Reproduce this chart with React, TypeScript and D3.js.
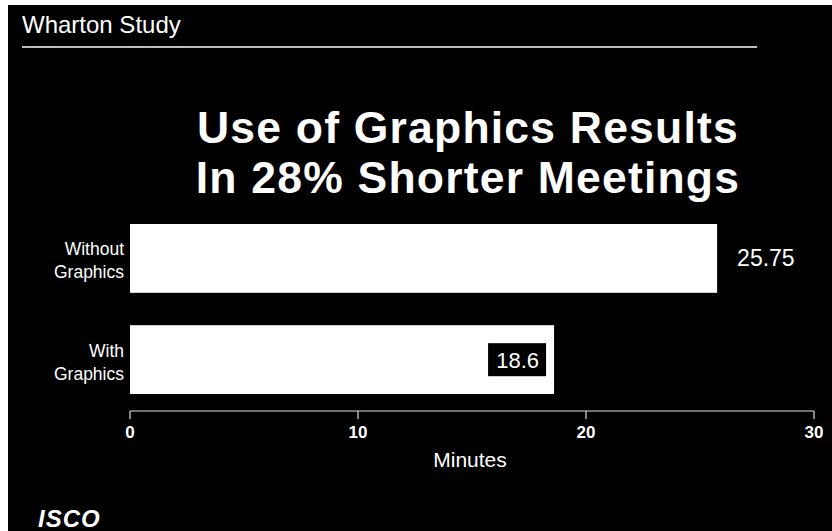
import React from "react";
import * as d3 from "d3";

const categories = [["Without", "Graphics"], ["With", "Graphics"]];
const values = [25.75, 18.6];
const valueLabels = ["25.75", "18.6"];
const xTicks = [0, 10, 20, 30];
const header = "Wharton Study";
const titleLines = ["Use of Graphics Results", "In 28% Shorter Meetings"];
const xTitle = "Minutes";

const W = 832;
const H = 531;
const FONT = "'Liberation Sans', Arial, Helvetica, sans-serif";

export default function App() {
  const x = d3.scaleLinear().domain([0, 30]).range([130, 814]);
  const y = d3.scaleBand<number>().domain([0, 1]).range([224, 394]).paddingInner(0.32).paddingOuter(0);
  const axisY = 411;
  return (
    <svg width={W} height={H} style={{ position: "fixed", left: 0, top: 0, display: "block" }} fontFamily={FONT}>
      <rect x={0} y={0} width={W} height={H} fill="#fff" />
      <rect x={8} y={5} width={W - 8} height={H - 5} fill="#000" />
      <text x={22} y={33} fill="#fff" fontSize={24}>{header}</text>
      <line x1={22} x2={757} y1={47} y2={47} stroke="#fff" strokeWidth={1.5} />
      {titleLines.map((t, i) => (
        <text key={i} x={468} y={143 + i * 50} fill="#fff" fontSize={44.5} fontWeight="bold" letterSpacing={1.2} textAnchor="middle">{t}</text>
      ))}
      {values.map((v, i) => {
        const y0 = y(i)!;
        const bh = y.bandwidth();
        const xe = x(v);
        return (
          <g key={i}>
            <rect x={x(0)} y={y0} width={xe - x(0)} height={bh} fill="#fff" />
            {categories[i].map((c, j) => (
              <text key={j} x={124} y={y0 + bh / 2 - 3 + j * 23} fill="#fff" fontSize={17.5} textAnchor="end">{c}</text>
            ))}
            {i === 0 ? (
              <text x={xe + 20} y={y0 + bh / 2 + 8} fill="#fff" fontSize={23}>{valueLabels[i]}</text>
            ) : (
              <g>
                <rect x={xe - 66} y={y0 + 18} width={58} height={33} fill="#000" />
                <text x={xe - 15} y={y0 + bh / 2 + 8} fill="#fff" fontSize={22} textAnchor="end">{valueLabels[i]}</text>
              </g>
            )}
          </g>
        );
      })}
      <line x1={x(0)} x2={x(30)} y1={axisY} y2={axisY} stroke="#ddd" strokeWidth={1.2} />
      {xTicks.map((t) => (
        <g key={t}>
          <line x1={x(t)} x2={x(t)} y1={axisY} y2={axisY + 8} stroke="#ddd" strokeWidth={1.2} />
          <text x={x(t)} y={438} fill="#fff" fontSize={17} fontWeight="bold" textAnchor="middle">{t}</text>
        </g>
      ))}
      <text x={470} y={467} fill="#fff" fontSize={21} textAnchor="middle">{xTitle}</text>
      <text x={38} y={527} fill="#fff" fontSize={24} fontWeight="bold" fontStyle="italic" letterSpacing={1}>ISCO</text>
    </svg>
  );
}
